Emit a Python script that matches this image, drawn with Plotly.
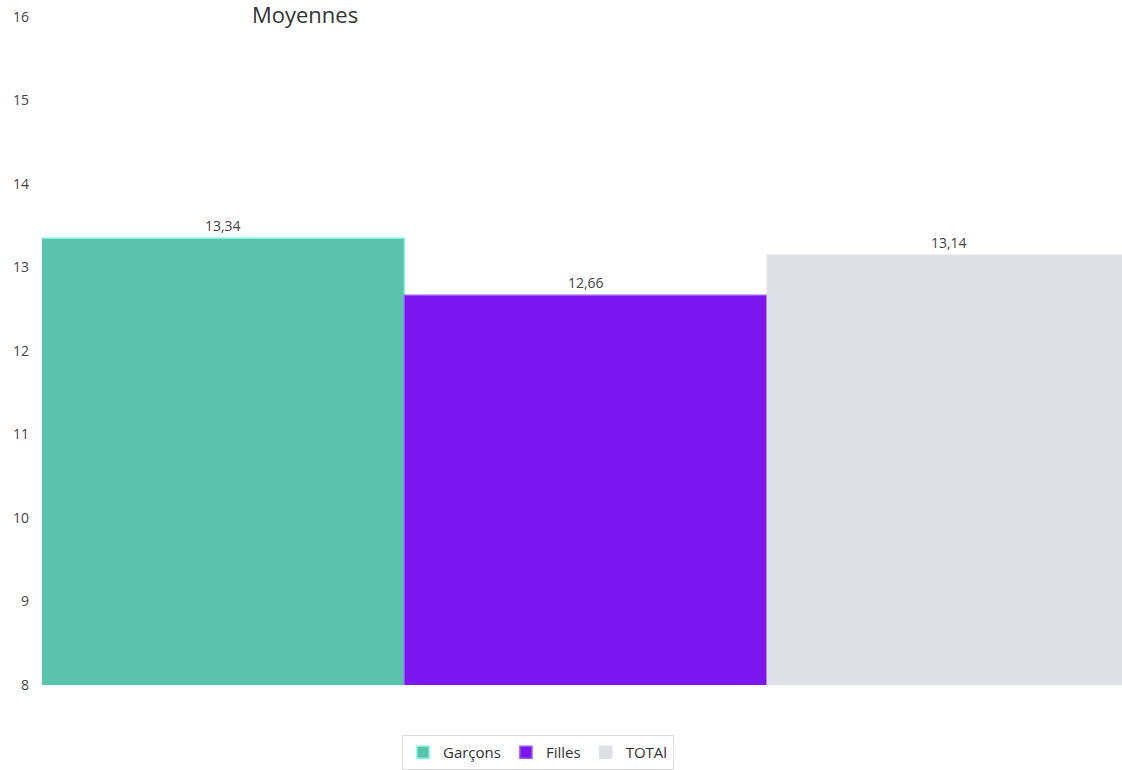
import plotly.graph_objects as go

series = ["Garçons", "Filles", "TOTAl"]
values = [13.34, 12.66, 13.14]
colors = ["#59c3ab", "#7b17ee", "#dfe0e5"]
borders = ["#7ff3dc", "#9a55f5", "#dfe0e5"]
category = ["Moyennes"]
y_ticks = [8, 9, 10, 11, 12, 13, 14, 15, 16]

W = 1131
fig = go.Figure()
for name, v, c, b in zip(series, values, colors, borders):
    fig.add_trace(go.Bar(
        x=category, y=[v], name=name,
        marker=dict(color=c, line=dict(color=b, width=1.5)),
        texttemplate="%{y:.2f}", textposition="outside",
        textfont=dict(size=14, color="#444444"),
        cliponaxis=False,
    ))

fig.update_layout(
    width=W, height=770,
    barmode="group", bargap=0, bargroupgap=0,
    separators=", ",
    plot_bgcolor="white", paper_bgcolor="white",
    font=dict(family="Open Sans, sans-serif", color="#333333"),
    margin=dict(l=42, r=0, t=17, b=84),
    title=dict(text="Moyennes", x=305/W, xanchor="center", xref="container",
               y=1-15/770, yanchor="middle", yref="container",
               font=dict(size=22, color="#333333")),
    xaxis=dict(visible=False, range=[-0.5, 0.5]),
    yaxis=dict(range=[8, 16], tickvals=y_ticks, showgrid=False, zeroline=False,
               showline=False, ticks="", ticklabelstandoff=12,
               tickfont=dict(size=14, color="#444444")),
    legend=dict(orientation="h", x=(538-42)/(W-42), xanchor="center",
                y=-(736-686)/669, yanchor="top",
                bordercolor="#dddddd", borderwidth=1,
                font=dict(size=15, color="#333333"), itemwidth=30),
    showlegend=True,
)

fig.write_html("out.html", config={"displayModeBar": False},
               post_script="document.body.style.margin='0';document.body.style.overflow='hidden';")
